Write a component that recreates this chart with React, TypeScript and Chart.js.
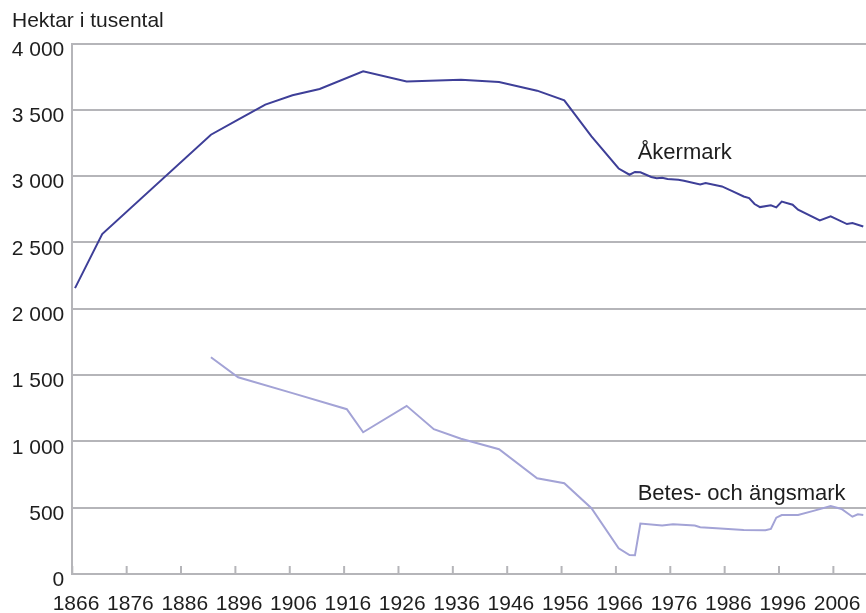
import React, { useEffect, useRef } from "react";
import { Chart, registerables } from "chart.js";

Chart.register(...registerables);

const titleText = "Hektar i tusental";

const akerYears = [1866, 1871, 1891, 1896, 1901, 1906, 1911, 1919, 1927, 1937, 1944, 1951, 1956, 1961, 1966, 1968, 1969, 1970, 1972, 1973, 1974, 1975, 1977, 1978, 1981, 1982, 1985, 1987, 1989, 1990, 1991, 1992, 1994, 1995, 1996, 1998, 1999, 2003, 2005, 2008, 2009, 2011];
const akerValues = [2156, 2564, 3313, 3426, 3540, 3610, 3658, 3791, 3715, 3728, 3711, 3645, 3572, 3300, 3058, 3011, 3032, 3029, 2994, 2984, 2989, 2979, 2974, 2966, 2938, 2949, 2923, 2885, 2847, 2835, 2790, 2767, 2780, 2765, 2808, 2785, 2747, 2667, 2697, 2639, 2647, 2621];

const betesYears = [1891, 1896, 1906, 1916, 1919, 1927, 1932, 1937, 1944, 1951, 1956, 1961, 1966, 1968, 1969, 1970, 1974, 1976, 1980, 1981, 1984, 1989, 1993, 1994, 1995, 1996, 1999, 2002, 2005, 2007, 2009, 2010, 2011];
const betesValues = [1635, 1484, 1364, 1243, 1069, 1268, 1092, 1020, 941, 722, 684, 496, 194, 143, 141, 380, 365, 375, 365, 352, 345, 332, 330, 340, 425, 445, 445, 478, 513, 490, 432, 450, 445];

const xTickYears = [1866, 1876, 1886, 1896, 1906, 1916, 1926, 1936, 1946, 1956, 1966, 1976, 1986, 1996, 2006];
const yTicks = [0, 500, 1000, 1500, 2000, 2500, 3000, 3500, 4000];

const seriesLabels = ["Åkermark", "Betes- och ängsmark"];
const labelAnchorYears = [1969.5, 1969.5];
const labelAnchorValues = [3130, 558];

const FONT = "'Liberation Sans', Arial, Helvetica, sans-serif";
const GRID = "#b5b5b9";
const TEXT = "#1e1e1e";
const AKER_COLOR = "#3e3f98";
const BETES_COLOR = "#a3a3d6";

function fmt(v: number): string {
  if (v >= 1000) {
    const th = Math.floor(v / 1000);
    const rest = String(v % 1000).padStart(3, "0");
    return th + " " + rest;
  }
  return String(v);
}

export default function App() {
  const ref = useRef<HTMLCanvasElement | null>(null);

  useEffect(() => {
    if (!ref.current) return;

    const tickMarks = {
      id: "tickMarks",
      afterDatasetsDraw(chart: any) {
        const ctx = chart.ctx;
        const xs = chart.scales.x;
        const bottom = chart.chartArea.bottom;
        ctx.save();
        ctx.strokeStyle = GRID;
        ctx.lineWidth = 2;
        xTickYears.forEach((yr) => {
          const px = xs.getPixelForValue(yr - 0.5);
          ctx.beginPath();
          ctx.moveTo(px, bottom - 8);
          ctx.lineTo(px, bottom);
          ctx.stroke();
        });
        ctx.restore();
      },
    };

    const seriesText = {
      id: "seriesText",
      afterDraw(chart: any) {
        const ctx = chart.ctx;
        const xs = chart.scales.x;
        const ys = chart.scales.y;
        ctx.save();
        ctx.fillStyle = TEXT;
        ctx.font = "22px " + FONT;
        ctx.textAlign = "left";
        ctx.textBaseline = "alphabetic";
        seriesLabels.forEach((t, i) => {
          ctx.fillText(t, xs.getPixelForValue(labelAnchorYears[i]), ys.getPixelForValue(labelAnchorValues[i]));
        });
        ctx.restore();
      },
    };

    const chart = new Chart(ref.current, {
      type: "line",
      data: {
        datasets: [
          {
            label: seriesLabels[0],
            data: akerYears.map((x, i) => ({ x, y: akerValues[i] })),
            borderColor: AKER_COLOR,
            borderWidth: 2,
            pointRadius: 0,
            tension: 0,
          },
          {
            label: seriesLabels[1],
            data: betesYears.map((x, i) => ({ x, y: betesValues[i] })),
            borderColor: BETES_COLOR,
            borderWidth: 2,
            pointRadius: 0,
            tension: 0,
          },
        ],
      },
      options: {
        animation: false,
        responsive: false,
        maintainAspectRatio: false,
        layout: { padding: { left: 12, right: 0, top: 0, bottom: 0 } },
        plugins: {
          legend: { display: false },
          tooltip: { enabled: false },
          title: {
            display: true,
            text: titleText,
            align: "start",
            color: TEXT,
            font: { family: FONT, size: 21, weight: "normal" },
            padding: { top: 8.4, bottom: 10 },
          },
        },
        scales: {
          x: {
            type: "linear",
            min: 1865.5,
            max: 2011.5,
            afterBuildTicks: (s: any) => {
              s.ticks = xTickYears.map((v) => ({ value: v }));
            },
            afterFit: (s: any) => {
              s.height = 39;
              s.paddingLeft = 0;
              s.paddingRight = 0;
            },
            grid: { display: false, drawTicks: false },
            border: { display: true, color: GRID, width: 2 },
            ticks: {
              color: TEXT,
              font: { family: FONT, size: 21 },
              padding: 18,
              labelOffset: 1,
              maxRotation: 0,
              autoSkip: false,
              callback: (v: any) => String(v),
            },
          },
          y: {
            type: "linear",
            min: 0,
            max: 4000,
            afterBuildTicks: (s: any) => {
              s.ticks = yTicks.map((v) => ({ value: v }));
            },
            afterFit: (s: any) => {
              s.width = 60.3;
              s.paddingTop = 0;
              s.paddingBottom = 0;
            },
            grid: { color: GRID, lineWidth: 2, drawTicks: false },
            border: { display: true, color: GRID, width: 2 },
            ticks: {
              color: TEXT,
              font: { family: FONT, size: 21 },
              padding: 8,
              labelOffset: 6.5,
              callback: (v: any) => fmt(Number(v)),
            },
          },
        },
      },
      plugins: [tickMarks, seriesText],
    });

    return () => chart.destroy();
  }, []);

  return (
    <div style={{ position: "absolute", left: 0, top: 0, width: 866, height: 613, background: "#fff" }}>
      <canvas ref={ref} width={866} height={613} style={{ display: "block", width: 866, height: 613 }} />
    </div>
  );
}
